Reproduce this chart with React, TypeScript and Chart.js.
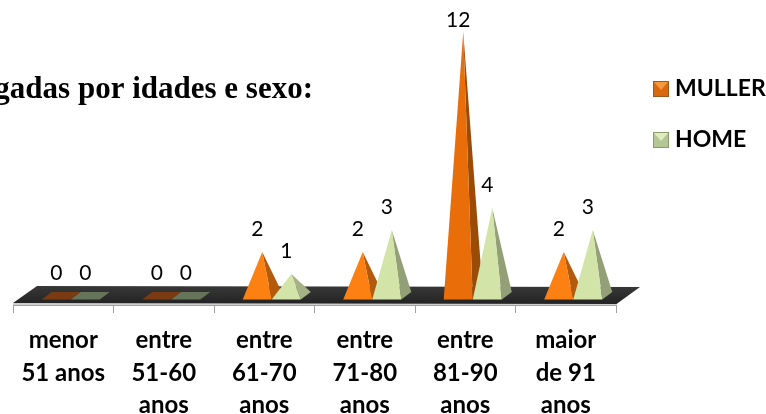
import React, { useEffect, useRef } from "react";
import { Chart, registerables } from "chart.js";

Chart.register(...registerables);

const categories = [
  ["menor", "51 anos"],
  ["entre", "51-60", "anos"],
  ["entre", "61-70", "anos"],
  ["entre", "71-80", "anos"],
  ["entre", "81-90", "anos"],
  ["maior", "de 91", "anos"],
];
const mullerValues = [0, 0, 2, 2, 12, 2];
const homeValues = [0, 0, 1, 3, 4, 3];
const mullerFront = ["#7a3b12", "#7a3b12", "#fd8013", "#fd8013", "#e96e0a", "#fd8013"];
const mullerSide = ["#7a3b12", "#7a3b12", "#b35a0c", "#b35a0c", "#9a4c07", "#b35a0c"];
const homeFront = ["#66755a", "#66755a", "#d3e4a8", "#d3e4a8", "#d3e4a8", "#d3e4a8"];
const homeSide = ["#66755a", "#66755a", "#a4b286", "#939f77", "#939f77", "#939f77"];
const titleText = "gadas por idades e sexo:";

const DX = 10;
const DY = 7.5;
const SHIFT = 7.5;

const scenePlugin = {
  id: "scene",
  beforeDatasetsDraw(chart: any) {
    const { ctx, chartArea } = chart;
    const l = chartArea.left;
    const r = chartArea.right + 0.5;
    const b = chartArea.bottom;
    ctx.save();
    ctx.fillStyle = "#d0d0d0";
    ctx.fillRect(l, b - 2, r - l, 2);
    const g = ctx.createLinearGradient(0, b - 19, 0, b - 2);
    g.addColorStop(0, "#383838");
    g.addColorStop(1, "#242424");
    ctx.fillStyle = g;
    ctx.beginPath();
    ctx.moveTo(l, b - 2);
    ctx.lineTo(r, b - 1);
    ctx.lineTo(r + 23.5, b - 18);
    ctx.lineTo(l + 24, b - 19);
    ctx.closePath();
    ctx.fill();
    ctx.restore();
  },
  afterDatasetsDraw(chart: any) {
    const { ctx } = chart;
    const yScale = chart.scales.y;
    const zero = yScale.getPixelForValue(0);
    const by = zero + DY / 2 - 0.25;
    ctx.save();
    chart.data.datasets.forEach((ds: any, di: number) => {
      const meta = chart.getDatasetMeta(di);
      meta.data.forEach((el: any, i: number) => {
        const p = el.getProps(["x", "y", "width"], true);
        const xl = p.x - p.width / 2 + SHIFT;
        const xr = p.x + p.width / 2 + SHIFT;
        const ax = (xl + xr) / 2 + DX / 2;
        const ay = p.y;
        if (ds.data[i] === 0) {
          ctx.fillStyle = ds.frontColors[i];
          ctx.beginPath();
          ctx.moveTo(xl, by);
          ctx.lineTo(xr, by);
          ctx.lineTo(xr + DX, by - DY);
          ctx.lineTo(xl + DX, by - DY);
          ctx.closePath();
          ctx.fill();
        } else {
          ctx.fillStyle = ds.sideColors[i];
          ctx.beginPath();
          ctx.moveTo(xr, by);
          ctx.lineTo(xr + DX, by - DY);
          ctx.lineTo(ax, ay);
          ctx.closePath();
          ctx.fill();
          ctx.fillStyle = ds.frontColors[i];
          ctx.beginPath();
          ctx.moveTo(xl, by);
          ctx.lineTo(xr, by);
          ctx.lineTo(ax, ay);
          ctx.closePath();
          ctx.fill();
        }
      });
    });
    ctx.fillStyle = "#000";
    ctx.font = "21px Lato";
    ctx.textAlign = "center";
    ctx.textBaseline = "middle";
    chart.data.datasets.forEach((ds: any, di: number) => {
      const meta = chart.getDatasetMeta(di);
      meta.data.forEach((el: any, i: number) => {
        const p = el.getProps(["x", "y", "width"], true);
        ctx.fillText(String(ds.data[i]), p.x + SHIFT, Math.max(20, p.y - 23));
      });
    });
    ctx.restore();
  },
  afterDraw(chart: any) {
    const { ctx } = chart;
    ctx.save();
    ctx.fillStyle = "#000";
    ctx.font = "bold 31px 'Liberation Serif'";
    ctx.textAlign = "right";
    ctx.textBaseline = "alphabetic";
    ctx.fillText(titleText, 313, 98);
    chart.data.datasets.forEach((ds: any, di: number) => {
      const x = 653;
      const y = 81 + di * 51;
      const s = 16;
      ctx.fillStyle = ds.legendEdge;
      ctx.fillRect(x, y, s, s);
      ctx.fillStyle = ds.legendFill;
      ctx.fillRect(x + 1, y + 1, s - 2, s - 2);
      ctx.fillStyle = ds.legendLight;
      ctx.beginPath();
      ctx.moveTo(x + 1, y + 1);
      ctx.lineTo(x + s - 1, y + 1);
      ctx.lineTo(x + s / 2, y + s / 2 + 1);
      ctx.closePath();
      ctx.fill();
      ctx.fillStyle = "#000";
      ctx.font = "bold 23px Lato";
      ctx.textAlign = "left";
      ctx.textBaseline = "middle";
      ctx.fillText(ds.label, 675, y + 8);
    });
    ctx.restore();
  },
};

export default function App() {
  const ref = useRef<HTMLCanvasElement>(null);
  useEffect(() => {
    document.body.style.margin = "0";
    const chart = new Chart(ref.current as HTMLCanvasElement, {
      type: "bar",
      data: {
        labels: categories as any,
        datasets: [
          {
            label: "MULLER",
            data: mullerValues,
            backgroundColor: "rgba(0,0,0,0)",
            frontColors: mullerFront,
            sideColors: mullerSide,
            legendEdge: "#9a5a22",
            legendFill: "#d9690f",
            legendLight: "#f59a3c",
          },
          {
            label: "HOME",
            data: homeValues,
            backgroundColor: "rgba(0,0,0,0)",
            frontColors: homeFront,
            sideColors: homeSide,
            legendEdge: "#8a9a70",
            legendFill: "#b4c694",
            legendLight: "#e0ecc0",
          },
        ] as any,
      },
      options: {
        animation: false,
        responsive: false,
        datasets: { bar: { categoryPercentage: 0.578, barPercentage: 1 } },
        layout: { padding: { left: 13, right: 150, top: 10, bottom: 0 } },
        plugins: { legend: { display: false }, tooltip: { enabled: false } },
        scales: {
          x: {
            offset: true,
            border: { color: "#a0a0a0", width: 1 },
            grid: {
              offset: true,
              drawOnChartArea: false,
              drawTicks: true,
              tickLength: 8,
              color: "#a0a0a0",
            },
            ticks: {
              autoSkip: false,
              maxRotation: 0,
              minRotation: 0,
              padding: 11,
              color: "#000",
              font: { family: "Lato", weight: "bold", size: 24, lineHeight: 1.355 },
            },
            afterFit(scale: any) {
              scale.height = 109;
            },
          },
          y: { display: false, min: -0.41, max: 13 },
        },
      } as any,
      plugins: [scenePlugin],
    });
    return () => chart.destroy();
  }, []);
  return (
    <div style={{ width: 766, height: 414, overflow: "hidden" }}>
      <canvas ref={ref} width={766} height={414} style={{ display: "block" }} />
    </div>
  );
}
